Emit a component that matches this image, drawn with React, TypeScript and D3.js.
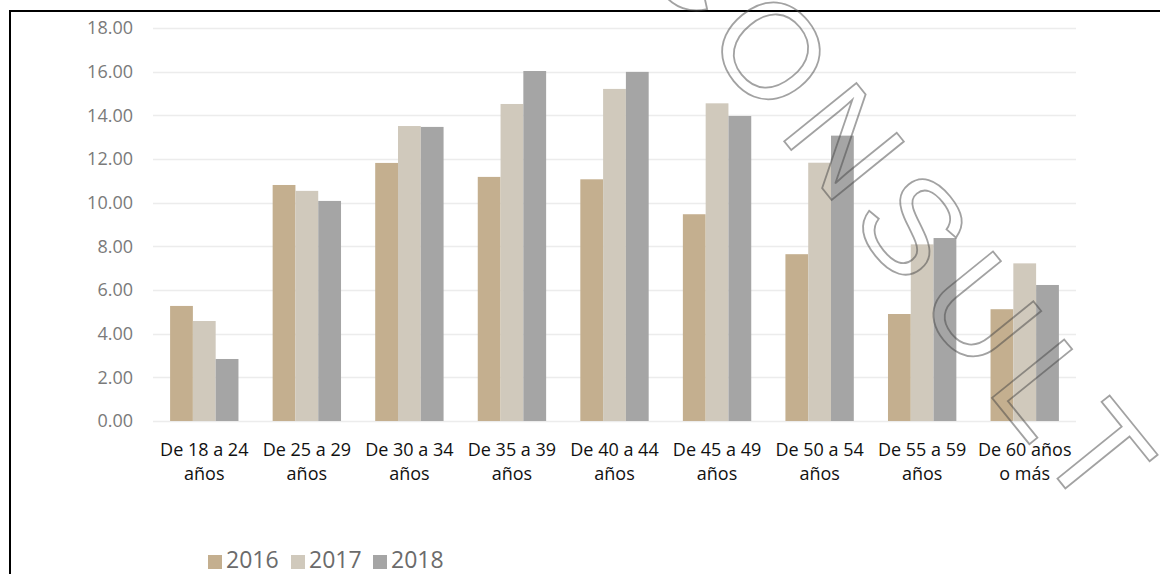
import React from "react";
import * as d3 from "d3";

const categories: string[] = [
  "De 18 a 24\naños",
  "De 25 a 29\naños",
  "De 30 a 34\naños",
  "De 35 a 39\naños",
  "De 40 a 44\naños",
  "De 45 a 49\naños",
  "De 50 a 54\naños",
  "De 55 a 59\naños",
  "De 60 años\no más",
];
const series: string[] = ["2016", "2017", "2018"];
const values2016: number[] = [5.27, 10.81, 11.82, 11.18, 11.07, 9.47, 7.64, 4.9, 5.12];
const values2017: number[] = [4.58, 10.54, 13.51, 14.52, 15.21, 14.55, 11.83, 8.09, 7.22];
const values2018: number[] = [2.84, 10.08, 13.47, 16.03, 15.99, 13.97, 13.07, 8.38, 6.23];
const yTicks: number[] = [0, 2, 4, 6, 8, 10, 12, 14, 16, 18];
const colors: string[] = ["#C4AF8F", "#D0C9BC", "#A5A5A5"];
const watermark = "CONSULT";

const W = 1160;
const H = 574;
const FONT = "'Open Sans', 'Liberation Sans', sans-serif";

export default function App() {
  const allValues = [values2016, values2017, values2018];
  const x = d3.scaleBand<string>().domain(categories).range([153, 1076]).padding(0);
  const y = d3.scaleLinear().domain([0, 18]).range([421, 28]);
  const step = x.bandwidth();
  const bw = step / 4.5;
  const x1 = d3.scaleBand<string>().domain(series).range([0, bw * 3]).padding(0);
  const fmt = d3.format(".2f");

  const legendX = [208, 291, 373];

  return (
    <svg
      width={W}
      height={H}
      viewBox={`0 0 ${W} ${H}`}
      style={{ position: "absolute", left: 0, top: 0, display: "block", background: "#fff" }}
    >
      <rect x={0} y={0} width={W} height={H} fill="#fff" />
      {/* frame */}
      <line x1={9} x2={W} y1={11} y2={11} stroke="#000" strokeWidth={2} />
      <line x1={10} x2={10} y1={10} y2={H} stroke="#000" strokeWidth={2} />

      {/* gridlines */}
      {yTicks.map((t) => (
        <line
          key={"g" + t}
          x1={153}
          x2={1076}
          y1={Math.round(y(t)) + 0.5}
          y2={Math.round(y(t)) + 0.5}
          stroke="#ECECEC"
          strokeWidth={1.5}
        />
      ))}
      {/* y labels */}
      {yTicks.map((t) => (
        <text
          key={"t" + t}
          x={133}
          y={y(t)}
          dy="0.36em"
          textAnchor="end"
          fontFamily={FONT}
          fontSize={18}
          fill="#7A7A7A"
        >
          {fmt(t)}
        </text>
      ))}

      {/* bars */}
      {categories.map((c, i) => {
        const gx = (x(c) as number) + step / 2 - 1.5 * bw;
        return (
          <g key={c}>
            {series.map((s, j) => {
              const v = allValues[j][i];
              return (
                <rect
                  key={s}
                  x={gx + (x1(s) as number)}
                  y={y(v)}
                  width={bw}
                  height={y(0) - y(v)}
                  fill={colors[j]}
                />
              );
            })}
          </g>
        );
      })}

      {/* category labels */}
      {categories.map((c) => {
        const cx = (x(c) as number) + step / 2;
        const lines = c.split("\n");
        return (
          <text
            key={"c" + c}
            x={cx}
            textAnchor="middle"
            fontFamily={FONT}
            fontSize={18}
            fill="#111"
          >
            {lines.map((l, k) => (
              <tspan key={k} x={cx} y={456 + k * 24}>
                {l}
              </tspan>
            ))}
          </text>
        );
      })}

      {/* legend */}
      {series.map((s, j) => (
        <g key={"l" + s}>
          <rect x={legendX[j]} y={555} width={14} height={14} fill={colors[j]} />
          <text
            x={legendX[j] + 18}
            y={568}
            fontFamily={FONT}
            fontSize={23}
            fill="#6B6B6B"
          >
            {s}
          </text>
        </g>
      ))}

      {/* watermark */}
      <text
        transform="translate(631,-48) rotate(51)"
        fontFamily="'Liberation Sans', Arial, sans-serif"
        fontSize={135}
        letterSpacing={15}
        fill="none"
        stroke="rgba(70,70,70,0.5)"
        strokeWidth={1.8}
      >
        {watermark}
      </text>
    </svg>
  );
}
